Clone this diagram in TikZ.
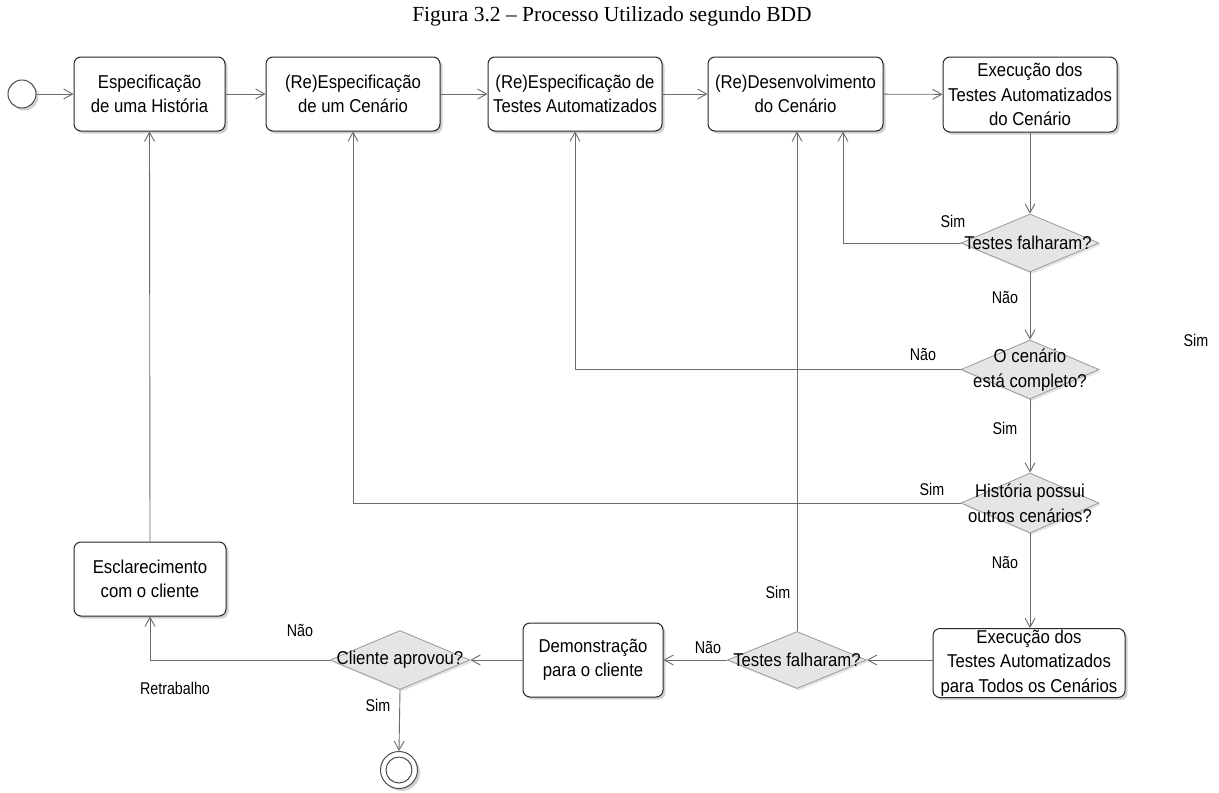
\documentclass[tikz,border=0pt]{standalone}
\usepackage{fontspec}
\setmainfont{Liberation Sans}
\newfontfamily\boxfont[FakeStretch=0.9]{Liberation Sans}
\newfontfamily\lblfont[FakeStretch=0.84]{Liberation Sans}
\newfontfamily\titlefont{Liberation Serif}
\usetikzlibrary{arrows.meta,shapes.geometric,shadows}
\begin{document}
\begin{tikzpicture}[x=1pt,y=-1pt,
  shd/.style={drop shadow={shadow xshift=2.5pt,shadow yshift=-2.5pt,fill=black!40,opacity=0.45}},
  box/.style={draw=black!85,line width=1pt,rounded corners=7pt,fill=white,inner sep=0pt,align=center,
    font=\boxfont\fontsize{18.6}{24.5}\selectfont,shd},
  dec/.style={diamond,draw=black!40,fill=black!10,line width=0.8pt,inner sep=0pt,
    minimum width=138pt,minimum height=58pt,drop shadow={shadow xshift=2pt,shadow yshift=-2pt,fill=black!25,opacity=0.4}},
  dectext/.style={font=\boxfont\fontsize{18.6}{25}\selectfont,align=center,inner sep=0pt},
  conn/.style={draw=black!58,line width=0.9pt,-{Straight Barb[length=9pt,width=10pt]}},
  lbl/.style={font=\lblfont\fontsize{17}{19}\selectfont,inner sep=0pt},
  ttl/.style={font=\titlefont\fontsize{21.5}{24}\selectfont,inner sep=0pt}]
\useasboundingbox (0,0) rectangle (1219,793);
\fill[white] (0,0) rectangle (1219,793);

\node[ttl] (title) at (612,16) {Figura 3.2 – Processo Utilizado segundo BDD};

% top row
\node[circle,draw=black!70,line width=1pt,minimum size=28pt,inner sep=0pt,fill=white,shd] (init) at (22,94) {};
\node[box,minimum width=151pt,minimum height=74pt] (b1) at (149.5,94) {Especificação\\de uma História};
\node[box,minimum width=174pt,minimum height=74pt] (b2) at (353,94) {(Re)Especificação\\de um Cenário};
\node[box,minimum width=174pt,minimum height=74pt] (b3) at (575,94) {(Re)Especificação de\\Testes Automatizados};
\node[box,minimum width=175pt,minimum height=74pt] (b4) at (795.5,94) {(Re)Desenvolvimento\\do Cenário};
\node[box,minimum width=174pt,minimum height=75pt] (b5) at (1030,94.5) {Execução dos\\Testes Automatizados\\do Cenário};

% decisions right column
\node[dec] (d1) at (1030,243) {};
\node[dectext] (d1t) at (1028,243) {Testes falharam?};
\node[dec,minimum height=59pt] (d2) at (1030,369.5) {};
\node[dectext] (d2t) at (1030,370) {O cenário\\está completo?};
\node[dec,minimum height=60pt] (d3) at (1030,503) {};
\node[dectext] (d3t) at (1030,503) {História possui\\outros cenários?};
\node[box,minimum width=192pt,minimum height=69pt] (b6) at (1029,663) {Execução dos\\Testes Automatizados\\para Todos os Cenários};

% bottom row
\node[dec,minimum width=139pt,minimum height=57pt] (d4) at (797,660) {};
\node[dectext] (d4t) at (797,660) {Testes falharam?};
\node[box,minimum width=140pt,minimum height=74pt] (demo) at (593,660) {Demonstração\\para o cliente};
\node[dec,minimum width=140pt,minimum height=59pt] (d5) at (400,660) {};
\node[dectext] (d5t) at (400,660) {Cliente aprovou?};
\node[box,minimum width=152pt,minimum height=74pt] (escl) at (150,579) {Esclarecimento\\com o cliente};
\node[circle,draw=black!70,line width=1pt,minimum size=37pt,inner sep=0pt,fill=white,shd] (fin) at (399,770) {};
\node[circle,draw=black!70,line width=1pt,minimum size=26pt,inner sep=0pt] (fin2) at (399,770) {};

% connectors
\draw[conn] (init) -- (b1);
\draw[conn] (b1) -- (b2);
\draw[conn] (b2) -- (b3);
\draw[conn] (b3) -- (b4);
\draw[conn] (b4) -- (b5);
\draw[conn] (b5.south) -- (d1.north);
\draw[conn] (d1.west) -| ([xshift=47.5pt]b4.south);
\draw[conn] (d1.south) -- (d2.north);
\draw[conn] (d2.west) -| (b3.south);
\draw[conn] (d2.south) -- (d3.north);
\draw[conn] (d3.west) -| (b2.south);
\draw[conn] (d3.south) -- (d3.south |- b6.north);
\draw[conn] (b6.west |- d4.east) -- (d4.east);
\draw[conn] (d4.north) -- (d4.north |- b4.south);
\draw[conn] (d4.west) -- (demo.east);
\draw[conn] (demo.west) -- (d5.east);
\draw[conn] (d5.west) -| (escl.south);
\draw[conn] (d5.south) -- (fin.north);
\draw[conn] (escl.north) -- (b1.south);

% labels
\node[lbl] (l1) at (953,221) {Sim};
\node[lbl] (l2) at (1005,297) {Não};
\node[lbl] (l3) at (923,354) {Não};
\node[lbl] (l4) at (1005,428) {Sim};
\node[lbl] (l5) at (932,489) {Sim};
\node[lbl] (l6) at (1005,562) {Não};
\node[lbl] (l7) at (1196,340) {Sim};
\node[lbl] (l8) at (778,592) {Sim};
\node[lbl] (l9) at (708,647) {Não};
\node[lbl] (l10) at (300,630) {Não};
\node[lbl] (l11) at (175,688) {Retrabalho};
\node[lbl] (l12) at (378,705) {Sim};
\end{tikzpicture}
\end{document}
